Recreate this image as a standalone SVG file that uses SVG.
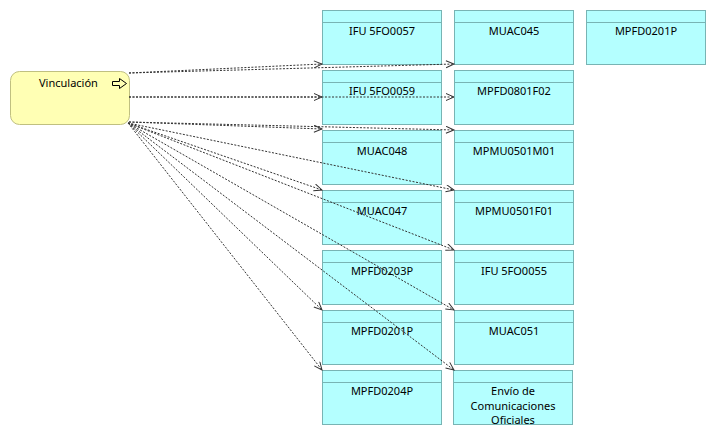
<svg xmlns="http://www.w3.org/2000/svg" width="716" height="435" viewBox="0 0 716 435">
<defs>
<style>
.box{fill:#b4ffff;stroke:#78b4b4;stroke-width:1}
.hdr{stroke:#78b4b4;stroke-width:1}
.lbl{font-family:"Noto Sans","Open Sans",sans-serif;font-size:11px;fill:#000;text-anchor:middle}
.start{fill:#ffffb4;stroke:#c0c080;stroke-width:1}
.conn{fill:none;stroke:#333;stroke-width:1;stroke-dasharray:2 1.5;marker-end:url(#arr)}
</style>
<marker id="arr" markerUnits="userSpaceOnUse" markerWidth="10" markerHeight="9" refX="8.5" refY="4" orient="auto">
<path d="M0.5,0.5 L8.5,4 L0.5,7.5" fill="none" stroke="#333" stroke-width="1"/>
</marker>
</defs>
<rect width="716" height="435" fill="#fff"/>

<g id="vinculacion">
<rect class="start" x="10.5" y="71.5" width="119" height="53" rx="9"/>
<text x="39" y="87" style="font-family:'Noto Sans','Open Sans',sans-serif;font-size:11px;fill:#000">Vinculación</text>
<polygon points="112.5,81.5 119.5,81.5 119.5,78.5 126.5,83.5 119.5,88.5 119.5,85.5 112.5,85.5" fill="none" stroke="#000" stroke-width="1"/>
</g>

<g id="ifu5fo0057"><rect class="box" x="322.5" y="10.5" width="119" height="54"/><line class="hdr" x1="322.5" y1="22.5" x2="441.5" y2="22.5"/><text class="lbl" x="382" y="35">IFU 5FO0057</text></g>
<g id="muac045"><rect class="box" x="454.5" y="10.5" width="119" height="54"/><line class="hdr" x1="454.5" y1="22.5" x2="573.5" y2="22.5"/><text class="lbl" x="514" y="35">MUAC045</text></g>
<g id="mpfd0201p_c3"><rect class="box" x="586.5" y="10.5" width="119" height="54"/><line class="hdr" x1="586.5" y1="22.5" x2="705.5" y2="22.5"/><text class="lbl" x="646" y="35">MPFD0201P</text></g>

<g id="ifu5fo0059"><rect class="box" x="322.5" y="70.5" width="119" height="54"/><line class="hdr" x1="322.5" y1="82.5" x2="441.5" y2="82.5"/><text class="lbl" x="382" y="95">IFU 5FO0059</text></g>
<g id="mpfd0801f02"><rect class="box" x="454.5" y="70.5" width="119" height="54"/><line class="hdr" x1="454.5" y1="82.5" x2="573.5" y2="82.5"/><text class="lbl" x="514" y="95">MPFD0801F02</text></g>

<g id="muac048"><rect class="box" x="322.5" y="130.5" width="119" height="54"/><line class="hdr" x1="322.5" y1="142.5" x2="441.5" y2="142.5"/><text class="lbl" x="382" y="155">MUAC048</text></g>
<g id="mpmu0501m01"><rect class="box" x="454.5" y="130.5" width="119" height="54"/><line class="hdr" x1="454.5" y1="142.5" x2="573.5" y2="142.5"/><text class="lbl" x="514" y="155">MPMU0501M01</text></g>

<g id="muac047"><rect class="box" x="322.5" y="190.5" width="119" height="54"/><line class="hdr" x1="322.5" y1="202.5" x2="441.5" y2="202.5"/><text class="lbl" x="382" y="215">MUAC047</text></g>
<g id="mpmu0501f01"><rect class="box" x="454.5" y="190.5" width="119" height="54"/><line class="hdr" x1="454.5" y1="202.5" x2="573.5" y2="202.5"/><text class="lbl" x="514" y="215">MPMU0501F01</text></g>

<g id="mpfd0203p"><rect class="box" x="322.5" y="250.5" width="119" height="54"/><line class="hdr" x1="322.5" y1="262.5" x2="441.5" y2="262.5"/><text class="lbl" x="382" y="275">MPFD0203P</text></g>
<g id="ifu5fo0055"><rect class="box" x="454.5" y="250.5" width="119" height="54"/><line class="hdr" x1="454.5" y1="262.5" x2="573.5" y2="262.5"/><text class="lbl" x="514" y="275">IFU 5FO0055</text></g>

<g id="mpfd0201p"><rect class="box" x="322.5" y="310.5" width="119" height="54"/><line class="hdr" x1="322.5" y1="322.5" x2="441.5" y2="322.5"/><text class="lbl" x="382" y="335">MPFD0201P</text></g>
<g id="muac051"><rect class="box" x="454.5" y="310.5" width="119" height="54"/><line class="hdr" x1="454.5" y1="322.5" x2="573.5" y2="322.5"/><text class="lbl" x="514" y="335">MUAC051</text></g>

<g id="mpfd0204p"><rect class="box" x="322.5" y="370.5" width="119" height="54"/><line class="hdr" x1="322.5" y1="382.5" x2="441.5" y2="382.5"/><text class="lbl" x="382" y="395">MPFD0204P</text></g>
<g id="envio"><rect class="box" x="453.5" y="370.5" width="119" height="54"/><line class="hdr" x1="453.5" y1="382.5" x2="572.5" y2="382.5"/><text class="lbl" x="513" y="395">Envío de</text><text class="lbl" x="513" y="410">Comunicaciones</text><text class="lbl" x="513" y="424">Oficiales</text></g>

<g id="connectors">
<path class="conn" d="M129,73 L322,64"/>
<path class="conn" d="M129,73 L454,64"/>
<path class="conn" d="M129,97 L322,97"/>
<path class="conn" d="M129,97 L454,97"/>
<path class="conn" d="M129,122 L322,129"/>
<path class="conn" d="M129,122 L454,130"/>
<path class="conn" d="M128,123 L322,190"/>
<path class="conn" d="M128,123 L454,190"/>
<path class="conn" d="M128,123 L454,250"/>
<path class="conn" d="M128,123 L322,310"/>
<path class="conn" d="M128,123 L454,310"/>
<path class="conn" d="M128,123 L322,370"/>
<path class="conn" d="M128,123 L454,370"/>
</g>
</svg>
